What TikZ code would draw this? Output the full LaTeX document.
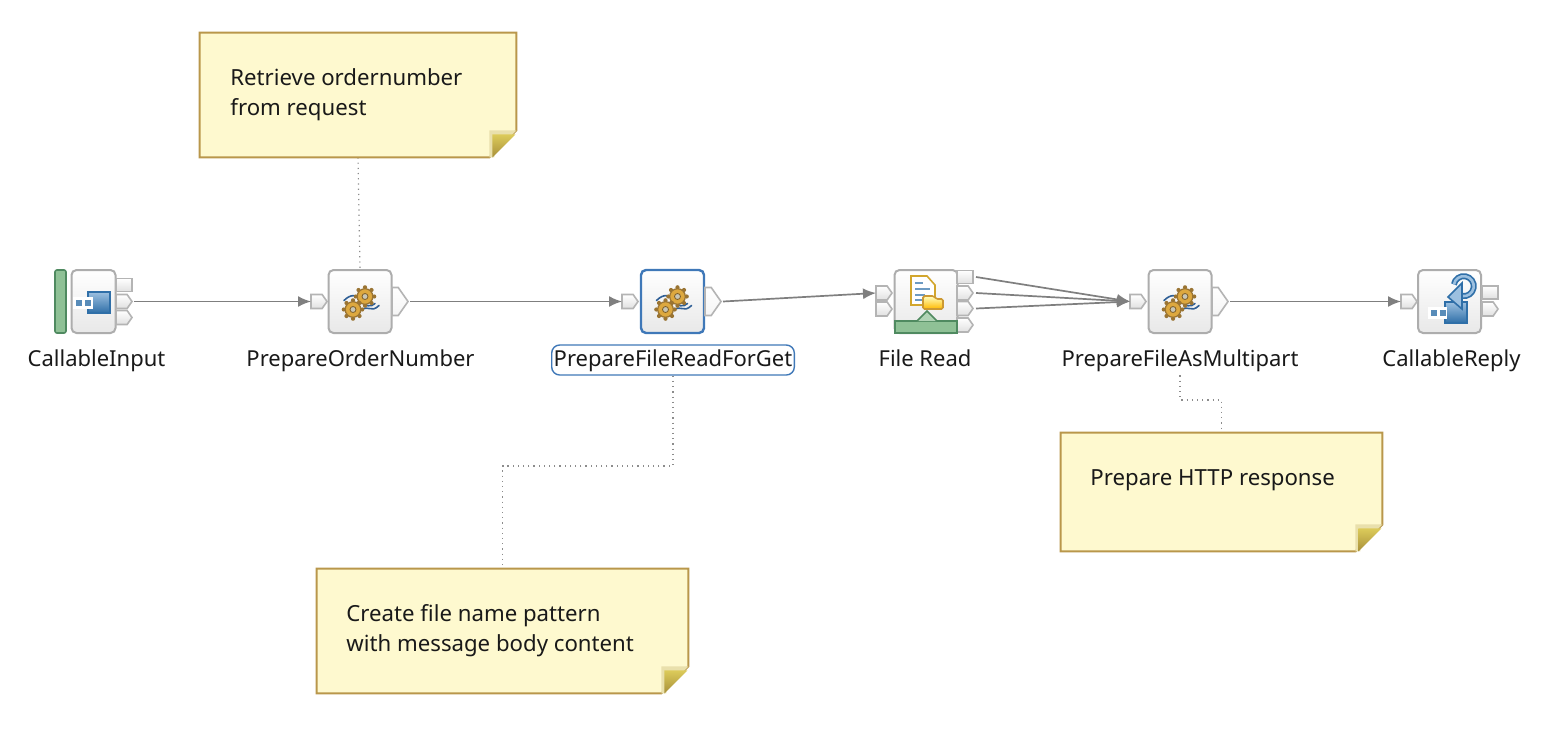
\documentclass[tikz,border=0pt]{standalone}
\usepackage{fontspec}
\setmainfont{Noto Sans}
\usetikzlibrary{arrows.meta,shapes.symbols,calc}
\definecolor{linegray}{HTML}{7F7F7F}
\definecolor{termline}{HTML}{B4B4B4}
\definecolor{boxline}{HTML}{ADADAD}
\definecolor{selblue}{HTML}{3F78B8}
\definecolor{notefill}{HTML}{FEF9CF}
\definecolor{noteline}{HTML}{B9974B}
\definecolor{foldedge}{HTML}{E9E0AC}
\definecolor{foldtop}{HTML}{DCCB5A}
\definecolor{foldbot}{HTML}{A8903A}
\definecolor{greenbar}{HTML}{8FC196}
\definecolor{greenline}{HTML}{4F8A60}
\definecolor{iconblue}{HTML}{2F6FA8}
\definecolor{lightblue}{HTML}{9CC0E0}
\definecolor{gearfill}{HTML}{DDA83F}
\definecolor{geartooth}{HTML}{9A7433}
\definecolor{gearhub}{HTML}{C9C6B4}
\definecolor{wave}{HTML}{2F5F96}
\tikzset{
  x=.5pt,y=-.5pt,
  flowbox/.style={draw=boxline,line width=1pt,rounded corners=2.5pt,top color=white,bottom color=black!9,
     minimum width=31.5pt,minimum height=31.5pt,inner sep=0pt},
  narrowbox/.style={flowbox,minimum width=22pt},
  intermbox/.style={signal,signal to=east,signal pointer angle=110,draw=termline,line width=.8pt,top color=white,bottom color=black!12,
     minimum width=8pt,minimum height=7pt,inner sep=0pt,outer sep=0pt,anchor=west},
  outgroup/.style={intermbox,minimum width=8pt,minimum height=14pt,top color=white,bottom color=black!4},
  squareterm/.style={rectangle,draw=termline,line width=.8pt,top color=white,bottom color=black!12,
     minimum width=8pt,minimum height=6.5pt,inner sep=0pt,outer sep=0pt,anchor=west},
  flowlabel/.style={font=\fontsize{11pt}{14pt}\selectfont,text=black!90,inner sep=0pt,text height=8.5pt,text depth=2.5pt},
  notetext/.style={font=\fontsize{11.1pt}{15pt}\selectfont,text=black!90,inner sep=0pt,align=left,anchor=west},
  notebox/.style={rectangle,inner sep=0pt},
  flowarrow/.style={draw=linegray,line width=.85pt,-{Latex[length=6.5pt,width=5.5pt]}},
  notelink/.style={draw=black!45,line width=.6pt,dotted},
}
\newcommand{\gearicon}[2]{%
  \begin{scope}[shift={(#1,#2)}]
    \draw[wave,line width=.8pt,line cap=round] (-16,-1) .. controls (-9,-8) and (-3,-7) .. (1,-1) .. controls (5,5) and (11,6) .. (15,2);
    \draw[wave,line width=.8pt,line cap=round] (-3,12) .. controls (1,7) and (5,6) .. (9,7) .. controls (12,8) and (15,8) .. (19,4);
    \foreach \gx/\gy in {5/-5,-7/8}{
      \foreach \ga in {0,45,...,315}{
        \fill[geartooth] ($(\gx,\gy)+(\ga:4.6pt)$) circle (1.05pt);
      }
      \fill[gearfill,draw=geartooth,line width=.6pt] (\gx,\gy) circle (3.9pt);
      \fill[gearhub,draw=geartooth!80!black,line width=.4pt] (\gx,\gy) circle (1.5pt);
    }
  \end{scope}}
\newcommand{\noteshape}[1]{%
  \path[fill=notefill,draw=noteline,line width=1pt]
    (#1.north west) -- (#1.north east) -- ($(#1.south east)+(0,-27)$) -- ($(#1.south east)+(-27,0)$) -- (#1.south west) -- cycle;
  \fill[foldedge] ($(#1.south east)+(0,-27)$) -- ($(#1.south east)+(-27,-27)$) -- ($(#1.south east)+(-27,0)$) -- ($(#1.south east)+(-22,0)$) -- ($(#1.south east)+(-22,-22)$) -- ($(#1.south east)+(-5,-22)$) -- cycle;
  \shade[top color=foldtop,bottom color=foldbot] ($(#1.south east)+(-1,-23)$) -- ($(#1.south east)+(-24,-23)$) -- ($(#1.south east)+(-24,0)$) -- cycle;}
\begin{document}
\begin{tikzpicture}
\useasboundingbox[fill=white] (0,0) rectangle (1566,744);

% note boxes
\node[notebox,minimum width=158pt,minimum height=62pt] (n1) at (358,95) {};
\node[notebox,minimum width=185.5pt,minimum height=62pt] (n2) at (502.5,631) {};
\node[notebox,minimum width=160.5pt,minimum height=59pt] (n3) at (1221.5,492) {};

% flow boxes
\node[narrowbox] (ci) at (93.5,301.5) {};
\node[flowbox] (po) at (360,301.5) {};
\node[flowbox,draw=selblue,line width=1.2pt] (pf) at (672.5,301.5) {};
\node[flowbox] (fr) at (926,301.5) {};
\node[flowbox] (pm) at (1180,301.5) {};
\node[flowbox] (cr) at (1449.5,301.5) {};

% labels
\node[flowlabel] (lci) at (96.5,360) {CallableInput};
\node[flowlabel] (lpo) at (360.5,360) {PrepareOrderNumber};
\node[flowlabel,draw=selblue,line width=.7pt,rounded corners=4pt,inner xsep=1pt,inner ysep=2pt] (lpf) at (673,360) {PrepareFileReadForGet};
\node[flowlabel] (lfr) at (925,360) {File Read};
\node[flowlabel,inner ysep=2pt] (lpm) at (1180,360) {PrepareFileAsMultipart};
\node[flowlabel] (lcr) at (1451.5,360) {CallableReply};

% note links
\coordinate (b2) at (600,466);
\coordinate (b3) at (1200,400);
\draw[notelink] (n1.south) -- (po.north);
\draw[notelink] (lpf.south) |- (b2) -| (n2.north);
\draw[notelink] (lpm.south) |- (b3) -| (n3.north);

% notes
\noteshape{n1}
\noteshape{n2}
\noteshape{n3}
\node[notetext] (t1) at (230,95) {Retrieve ordernumber\\from request};
\node[notetext] (t2) at (346,631) {Create file name pattern\\with message body content};
\node[notetext] (t3) at (1090,480) {Prepare HTTP response};

% terminals
\node[squareterm] (cit) at (116,285) {};
\node[intermbox] (cio) at (116,301.5) {};
\node[intermbox] (cib) at (116,317.5) {};
\node[intermbox] (poi) at (311,301.5) {};
\node[outgroup] (poo) at (392,301.5) {};
\node[intermbox] (pfi) at (622,301.5) {};
\node[outgroup] (pfo) at (705,301.5) {};
\node[intermbox] (fri) at (876,293) {};
\node[intermbox] (frj) at (876,309) {};
\node[squareterm] (fra) at (957,277) {};
\node[intermbox] (frb) at (957,293) {};
\node[intermbox] (frc) at (957,308.5) {};
\node[intermbox] (frd) at (957,325) {};
\node[intermbox] (pmi) at (1130,301.5) {};
\node[outgroup] (pmo) at (1212,301.5) {};
\node[intermbox] (cri) at (1401,301.5) {};
\node[squareterm] (cra) at (1482,292.5) {};
\node[intermbox] (crb) at (1482,309) {};

% connectors
\draw[flowarrow] (cio.east) ++(2,0) coordinate (s1) -- (poi.west);
\draw[flowarrow] (poo.east) ++(2,0) coordinate (s2) -- (pfi.west);
\draw[flowarrow] (pfo.east) ++(2,0) coordinate (s3) -- (fri.west);
\draw[flowarrow] (fra.east) ++(3,0) coordinate (s4) -- (pmi.west);
\draw[flowarrow] (frb.east) ++(3,0) coordinate (s5) -- (pmi.west);
\draw[flowarrow] (frc.east) ++(3,0) coordinate (s6) -- (pmi.west);
\draw[flowarrow] (pmo.east) ++(2,0) coordinate (s7) -- (cri.west);

% CallableInput icon
\fill[greenbar,draw=greenline,line width=.8pt,rounded corners=1pt] (55,270) rectangle (66,333);
\shade[top color=lightblue,bottom color=iconblue,draw=iconblue,line width=.8pt] (88,292) rectangle (110,313);
\fill[white] (73,297) rectangle (93,309);
\fill[iconblue!80] (76,300) rectangle (82,306);
\fill[iconblue!80] (85,300) rectangle (91,306);

% gears
\gearicon{360}{301.5}
\gearicon{672.5}{301.5}
\gearicon{1180}{301.5}

% File Read icon
\fill[greenbar,draw=greenline,line width=.8pt] (895,321) rectangle (957,333);
\fill[greenbar!70!white,draw=greenline,line width=.8pt] (917,321) -- (927,311) -- (937,321);
\fill[white,draw=brown!70!yellow,line width=.8pt] (911,276) -- (927,276) -- (935,285) -- (935,305) -- (911,305) -- cycle;
\draw[iconblue!70,line width=.9pt] (915,283) -- (923,283) (915,289) -- (930,289) (915,295) -- (925,295) (915,300) -- (925,300);
\fill[top color=yellow!25,bottom color=orange!55!yellow,draw=brown!80!yellow,line width=.8pt,rounded corners=.8pt] (923,296) -- (934,296) -- (936,299) -- (943,299) -- (943,309) -- (923,309) -- cycle;

% CallableReply icon
\shade[top color=lightblue,bottom color=iconblue,draw=iconblue,line width=.8pt] (1445,302) rectangle (1467,323);
\fill[white] (1428,307) rectangle (1447,319);
\fill[iconblue!80] (1431,310) rectangle (1437,316);
\fill[iconblue!80] (1440,310) rectangle (1446,316);
\coordinate (arcstart) at (1462,296);
\draw[iconblue,line width=3pt] (arcstart) arc[start angle=-100,end angle=170,radius=5pt];
\draw[lightblue,line width=1.3pt] (arcstart) arc[start angle=-100,end angle=170,radius=5pt];
\fill[lightblue,draw=iconblue,line width=.8pt] (1448,297) -- (1462,283) -- (1462,309) -- cycle;
\end{tikzpicture}
\end{document}
